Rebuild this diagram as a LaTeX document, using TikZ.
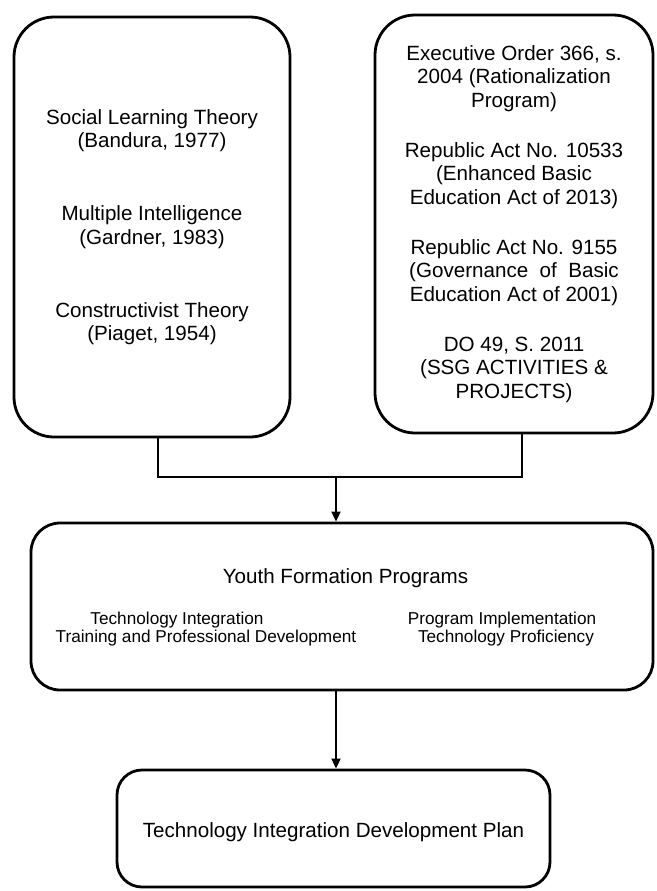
\documentclass[tikz,border=0pt]{standalone}
\usepackage{fontspec}
\setmainfont{Liberation Sans}
\usetikzlibrary{arrows.meta}
\begin{document}
\begin{tikzpicture}[x=1pt,y=-1pt,
  box/.style={draw, line width=2.8pt, align=center, inner sep=0pt},
  big/.style={font=\fontsize{20.6}{23.5}\selectfont},
  small/.style={font=\fontsize{17.2}{18.5}\selectfont},
  link/.style={line width=2.4pt},
  arr/.style={line width=1.8pt, -{Triangle[length=10pt,width=9pt]}}]
\useasboundingbox (0,0) rectangle (656,891);
\node[box, big, rounded corners=40pt, minimum width=276pt, minimum height=420pt] (L) at (152,227)
  {Social Learning Theory\\(Bandura, 1977)\\[49.5pt]Multiple Intelligence\\(Gardner, 1983)\\[49.5pt]Constructivist Theory\\(Piaget, 1954)};
\node[box, big, rounded corners=40pt, minimum width=278pt, minimum height=418pt] (R) at (514,224)
  {Executive Order 366, s.\\2004 (Rationalization\\Program)\\[26.5pt]Republic Act No. 10533\\(Enhanced Basic\\Education Act of 2013)\\[26.5pt]Republic Act No. 9155\\(Governance\ \ of\ \ Basic\\Education Act of 2001)\\[26.5pt]DO 49, S. 2011\\(SSG ACTIVITIES \&\\PROJECTS)};
\node[box, rounded corners=29pt, minimum width=622pt, minimum height=167pt] (M) at (342,606.5) {};
\node[big] (Mt) at (345.5,578) {Youth Formation Programs};
\node[small] (Ma) at (177,620) {Technology Integration};
\node[small] (Mb) at (206,638) {Training and Professional Development};
\node[small] (Mc) at (502,620) {Program Implementation};
\node[small] (Md) at (506,638) {Technology Proficiency};
\node[box, big, rounded corners=25pt, minimum width=433pt, minimum height=117pt] (B) at (333.5,828.5) {};
\node[big] (Bt) at (333.5,832) {Technology Integration Development Plan};
\coordinate (j) at (336,477);
\draw[link] ([xshift=6pt]L.south) |- (j) -| ([xshift=8pt]R.south);
\draw[arr] (j) -- (j |- M.north);
\draw[arr] (M.south -| j) -- (B.north -| j);
\end{tikzpicture}
\end{document}
